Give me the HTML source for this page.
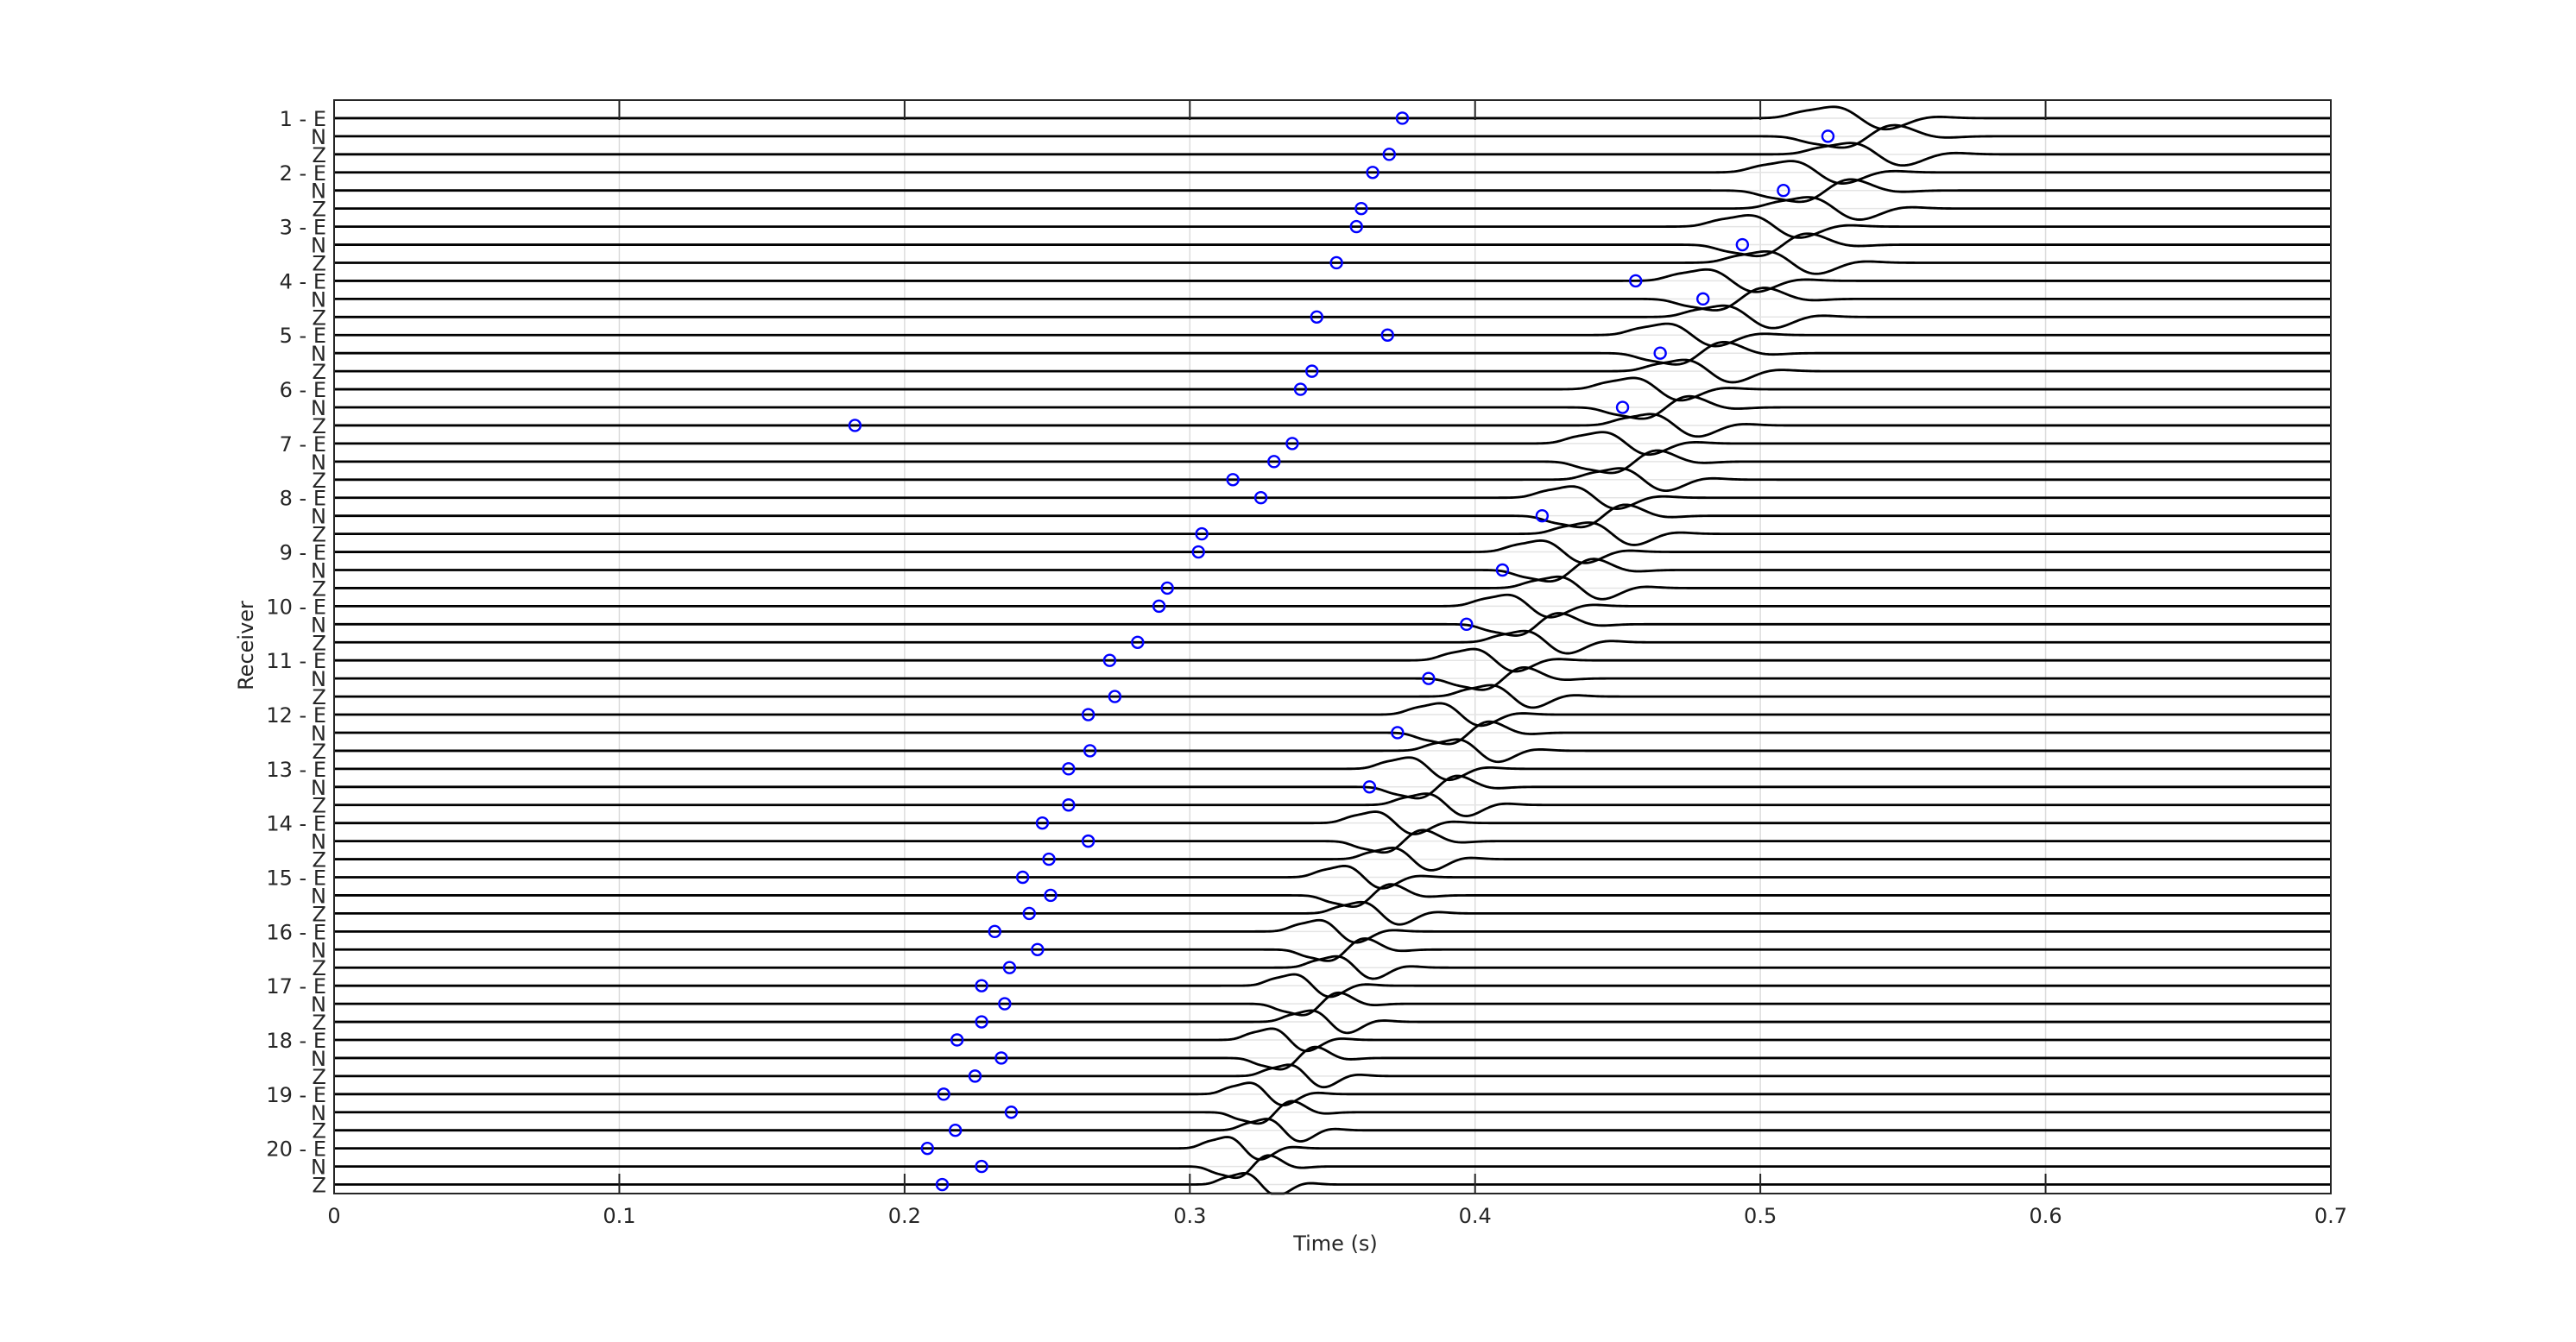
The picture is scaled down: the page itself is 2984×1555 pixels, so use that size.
<!DOCTYPE html>
<html><head><meta charset="utf-8"><style>
html,body{margin:0;padding:0;background:#fff;}
svg{display:block;font-family:"DejaVu Sans","Liberation Sans",sans-serif;}
</style></head>
<body>
<svg id="chart" width="2984" height="1555" viewBox="0 0 2984 1555" xmlns="http://www.w3.org/2000/svg">
<rect x="0" y="0" width="2984" height="1555" fill="#fff"/>
<g id="grid"></g>
<g id="traces"></g>
<g id="picks"></g>
<rect x="387" y="116" width="2313" height="1267" fill="none" stroke="#262626" stroke-width="2"/>
<g id="axes"></g>
<text x="1547" y="1449" font-size="24" fill="#262626" text-anchor="middle">Time (s)</text>
<text x="293" y="748" font-size="24" fill="#262626" text-anchor="middle" transform="rotate(-90 293 748)">Receiver</text>
</svg>
<script>
const xTicks = [0, 0.1, 0.2, 0.3, 0.4, 0.5, 0.6, 0.7];
const xTickLabels = ["0", "0.1", "0.2", "0.3", "0.4", "0.5", "0.6", "0.7"];
const components = ["E", "N", "Z"];
const componentPolarity = [1, -1, 1];
const receiverArrivals = [0.538,0.523,0.508,0.493,0.479,0.467,0.456,0.445,0.434,0.422,0.410,0.398,0.387,0.375,0.364,0.355,0.346,0.338,0.330,0.322];
const pickTimes = [
0.3745,0.5237,0.3699, 0.3641,0.5081,0.3601, 0.3584,0.4937,0.3514, 0.4563,0.4799,0.3445,
0.3693,0.4649,0.3428, 0.3388,0.4517,0.1826, 0.3359,0.3295,0.3151, 0.3249,0.4235,0.3042,
0.3030,0.4096,0.2921, 0.2892,0.3970,0.2817, 0.2719,0.3837,0.2737, 0.2644,0.3728,0.2650,
0.2575,0.3630,0.2575, 0.2483,0.2644,0.2506, 0.2414,0.2512,0.2437, 0.2316,0.2466,0.2368,
0.2270,0.2351,0.2270, 0.2184,0.2339,0.2247, 0.2137,0.2374,0.2178, 0.2080,0.2270,0.2132];

const NS = "http://www.w3.org/2000/svg";
const L = 387, R = 2700, T = 116, B = 1383;
const X = t => L + (t / 0.7) * (R - L);
const Y = k => T + (k / 60.5) * (B - T);
function mk(tag, attrs, parent) {
  const e = document.createElementNS(NS, tag);
  for (const a in attrs) e.setAttribute(a, attrs[a]);
  parent.appendChild(e);
  return e;
}
const grid = document.getElementById('grid');
const axes = document.getElementById('axes');
const traces = document.getElementById('traces');
const picks = document.getElementById('picks');

xTicks.forEach((t, i) => {
  const x = X(t);
  if (i > 0 && i < xTicks.length - 1) {
    const g = mk('line', {x1: x, x2: x, y1: T, y2: B, stroke: '#dcdcdc', 'stroke-width': 1.5}, grid);
    
    
    const t1 = mk('line', {x1: x, x2: x, y1: T, y2: T + 23, stroke: '#262626', 'stroke-width': 2}, axes);
    
    
    const t2 = mk('line', {x1: x, x2: x, y1: B - 23, y2: B, stroke: '#262626', 'stroke-width': 2}, axes);
    
    
  }
  const lab = mk('text', {x: x, y: 1417, 'font-size': 24, fill: '#262626', 'text-anchor': 'middle'}, axes);
  lab.textContent = xTickLabels[i];
  
  
});

const amp = 13;
for (let r = 0; r < 20; r++) {
  const sigma = 0.0092 - r * 0.00018;
  for (let c = 0; c < 3; c++) {
    const k = r * 3 + c + 1;
    const y0 = Y(k);
    const hl = mk('line', {x1: L, x2: R, y1: y0, y2: y0, stroke: '#e4e4e4', 'stroke-width': 1.5}, grid);
    
    
    const lab = mk('text', {x: 378, y: y0 + 9, 'font-size': 24, fill: '#262626', 'text-anchor': 'end'}, axes);
    lab.textContent = c === 0 ? (r + 1) + ' - E' : components[c];
    
    

    const tc = receiverArrivals[r] + (c - 1) * 0.003;
    const pol = componentPolarity[c];
    let d = '';
    for (let x = L; x <= R; x += 2) {
      const t = (x - L) / (R - L) * 0.7;
      const u = (t - tc) / sigma;
      let dy = pol * amp * 1.65 * u * Math.exp(-u * u / 2);
      dy += -pol * amp * 0.3 * Math.exp(-Math.pow((u + 2.3) / 0.7, 2));
      dy += -pol * amp * 0.2 * Math.exp(-Math.pow((u - 2.6) / 1.0, 2));
      let yy = Math.min(B, Math.max(T, y0 + dy));
      d += (d ? 'L' : 'M') + x.toFixed(1) + ' ' + yy.toFixed(2);
    }
    const p = mk('path', {d: d, fill: 'none', stroke: '#000', 'stroke-width': 2.8, 'stroke-linejoin': 'round'}, traces);
    
    

    const ci = mk('circle', {cx: X(pickTimes[k - 1]), cy: y0, r: 6.5, fill: 'none', stroke: '#0000ff', 'stroke-width': 2.4}, picks);
    
    
  }
}
</script>
</body></html>
